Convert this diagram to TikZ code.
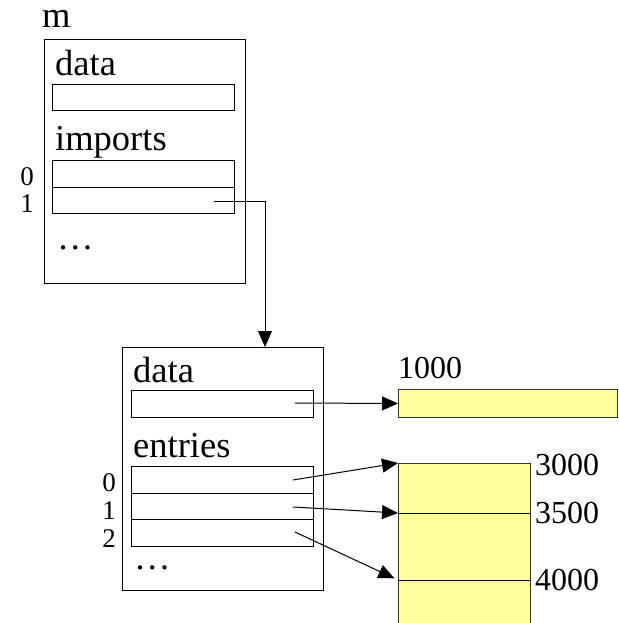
\documentclass[tikz,border=0pt]{standalone}
\usepackage{fontspec}
\setmainfont{Liberation Serif}
\usetikzlibrary{arrows.meta}
\usetikzlibrary{positioning}

\definecolor{memyellow}{RGB}{255,255,153}

\tikzset{
  modbox/.style={draw, line width=1pt, anchor=north west, inner sep=0pt,
    minimum width=201pt, minimum height=244pt},
  slot/.style={draw, line width=1pt, anchor=north west, inner sep=0pt,
    minimum width=182pt, minimum height=26.5pt},
  word/.style={font=\fontsize{36.5}{38}\selectfont, inner sep=0pt, anchor=base west},
  num/.style={font=\fontsize{32}{34}\selectfont, inner sep=0pt, anchor=base west},
  idx/.style={font=\fontsize{27}{28}\selectfont, inner sep=0pt},
  mem/.style={draw=black!80, line width=1pt, fill=memyellow, anchor=north west, inner sep=0pt},
  ptr/.style={line width=1pt, -{Triangle[length=16pt,width=14pt]}},
}

\begin{document}
\begin{tikzpicture}[x=1pt,y=-1pt]
\useasboundingbox (0,0) rectangle (618,623);

% module m
\node[word, text height=16pt, text depth=0pt] (mname) at (42,28) {m};
\node[modbox] (m) at (44,39) {};
\node[word] (mdata) at (55,76) {data};
\node[slot, minimum height=26pt] (mdataslot) at (52,84) {};
\node[word] (mimp) at (55,150) {imports};
\node[slot] (imp0) at (52,160) {};
\node[slot] (imp1) at (52,186.5) {};
\node[idx] at (27,177) {0};
\node[idx] at (27,204) {1};
\node[word] at (57,249) {…};

% imported instance
\node[modbox, minimum height=243pt] (inst) at (122,347) {};
\node[word] (idata) at (133,382) {data};
\node[slot, minimum height=27pt] (idataslot) at (131,390) {};
\node[word] (ient) at (133,457) {entries};
\node[slot] (ent0) at (131,466) {};
\node[slot] (ent1) at (131,492.5) {};
\node[slot] (ent2) at (131,519) {};
\node[idx] at (109,483) {0};
\node[idx] at (109,511) {1};
\node[idx] at (109,539) {2};
\node[word] at (134,569) {…};

% memory and table
\node[num] at (398,378) {1000};
\node[mem, minimum width=219pt, minimum height=28pt] (bar) at (398,389) {};
\node[mem, minimum width=132pt, minimum height=170pt] (col) at (398,463) {};
\coordinate (m3500) at (398,513);
\coordinate (m4000) at (398,580);
\draw[line width=1pt] (m3500) -- (m3500 -| col.east);
\draw[line width=1pt] (m4000) -- (m4000 -| col.east);
\node[num] at (535,475) {3000};
\node[num] at (535,523) {3500};
\node[num] at (535,590) {4000};

% pointers
\coordinate (imp1src) at (214,201);
\coordinate (bend) at (265,201);
\draw[ptr] (imp1src) -- (bend) -- (bend |- inst.north);
\coordinate (dsrc) at (295,403);
\draw[ptr] (dsrc) -- (bar.west);
\coordinate (e0src) at (293,480);
\coordinate (e1src) at (293,507);
\coordinate (e2src) at (295,532);
\draw[ptr] (e0src) -- (col.north west);
\draw[ptr] (e1src) -- (m3500);
\draw[ptr, shorten >=4pt] (e2src) -- (m4000);
\end{tikzpicture}
\end{document}
